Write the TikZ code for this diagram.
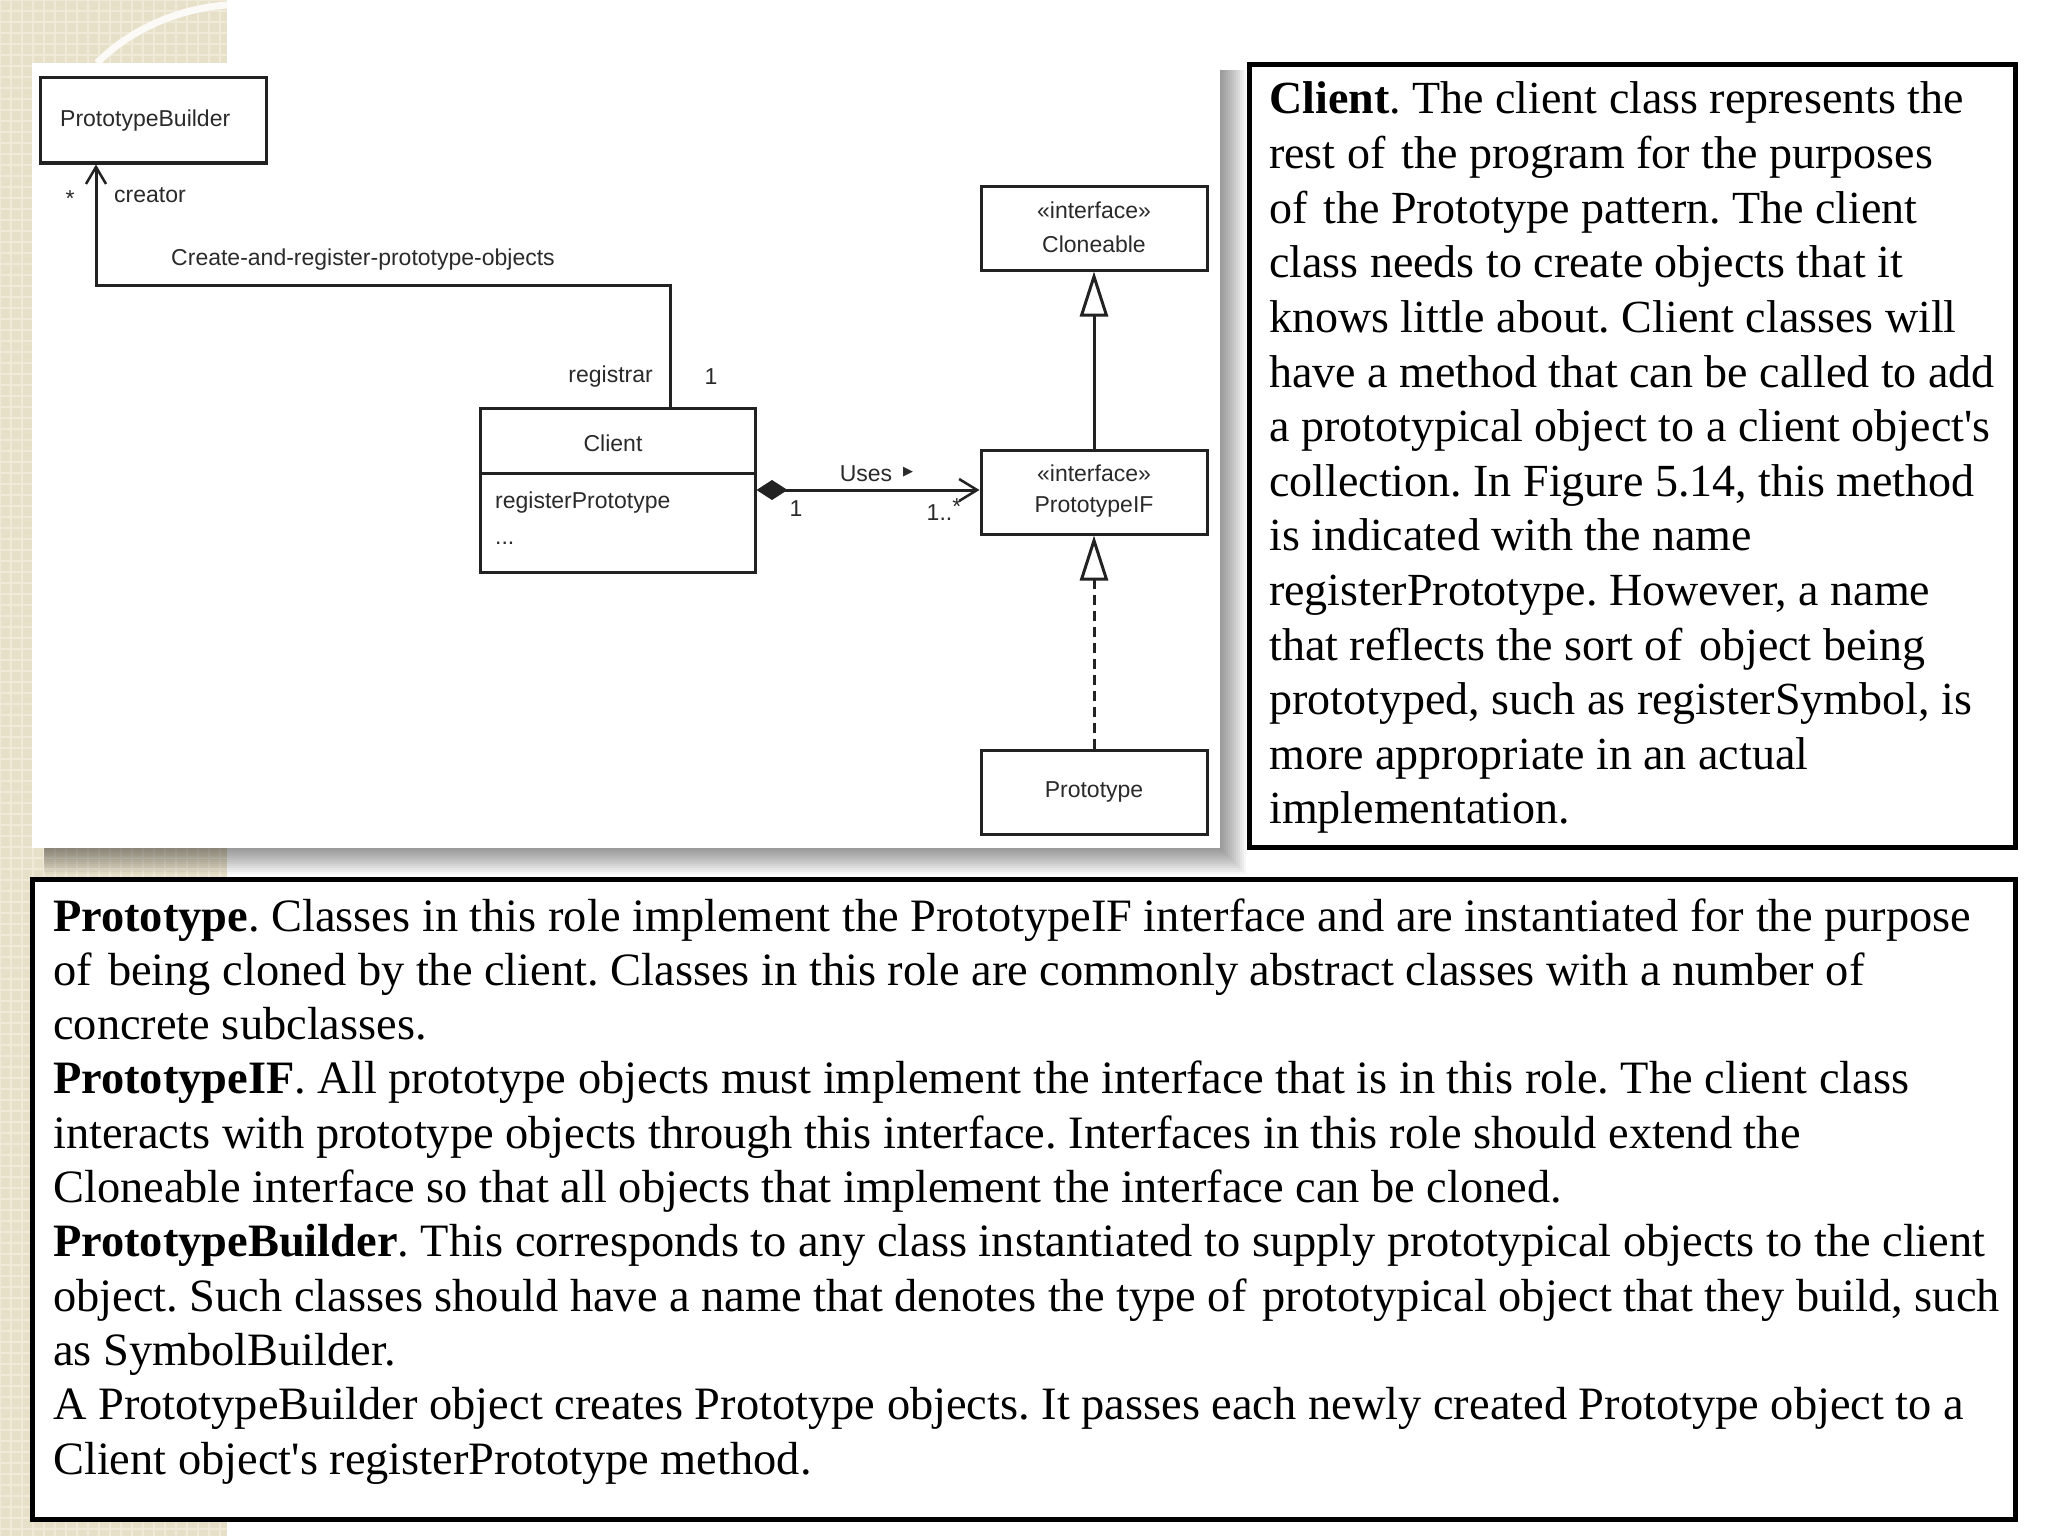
\documentclass[tikz,border=0pt]{standalone}
\usepackage{fontspec}
\setmainfont{Liberation Serif}
\newfontfamily\diag{Liberation Sans}
\newfontfamily\dejavu{DejaVu Sans}
\usetikzlibrary{arrows.meta}
\definecolor{beige}{HTML}{E7E0C9}
\definecolor{beigelite}{HTML}{EFE9D8}
\definecolor{linec}{HTML}{222222}
\definecolor{textc}{HTML}{2A2A2A}
\frenchspacing
\newcommand{\xsp}{\hspace{0.1em}}
\begin{document}
\begin{tikzpicture}[x=1pt,y=-1pt,
  umlbox/.style={draw=linec, line width=3pt, fill=white, inner sep=0pt},
  dtext/.style={font=\diag\fontsize{23}{27}\selectfont, text=textc, inner sep=0pt},
  conn/.style={draw=linec, line width=3pt},
  bodyline/.style={font=\fontsize{46}{55}\selectfont, anchor=base west, inner sep=0pt},
  bodyline2/.style={font=\fontsize{46.4}{55}\selectfont, anchor=base west, inner sep=0pt},
  textframe/.style={draw=black, line width=5pt, fill=white},
  openv/.style={-{Straight Barb[length=17pt,width=20pt,line width=2.5pt]}},
  tri/.style={-{Triangle[open,length=45pt,width=28pt,fill=white,line width=3pt]}}
]
\useasboundingbox (0,0) rectangle (2048,1536);
% background
\fill[white] (0,0) rectangle (2048,1536);
\fill[beige] (0,0) rectangle (227,1536);
\draw[beigelite, line width=2pt, step=11pt] (0,0) grid (227,1536);
\draw[white!85!beige, line width=7pt] (97,63) .. controls (135,25) and (185,8) .. (227,5);
% panel shadow
\foreach \k in {2,4,...,26} {
  \fill[black, opacity=0.035] (44,70) rectangle (1220+\k,848+\k);
}
\fill[white] (32,63) rectangle (1220,848);
% text frames
\draw[textframe] (1249.5,64.5) rectangle (2015.5,847.5);
\draw[textframe] (32.5,879.5) rectangle (2015.5,1519.5);

% UML boxes
\node[umlbox, minimum width=226pt, minimum height=85pt] (pb) at (153,120.5) {};
\node[dtext, anchor=west] (pbt) at (60,121) {PrototypeBuilder};
\node[umlbox, minimum width=275pt, minimum height=164pt] (client) at (617.5,490) {};
\coordinate (cdiv) at (0,473);
\draw[conn] (client.west |- cdiv) -- (client.east |- cdiv);
\node[dtext] (clientt) at (613,443) {Client};
\node[dtext, anchor=west] (regp) at (495,503) {registerPrototype};
\node[dtext, anchor=west] (dots) at (495,543) {...};

\node[umlbox, minimum width=226pt, minimum height=84pt] (clone) at (1094,228) {};
\node[dtext] (clonest) at (1094,210) {«interface»};
\node[dtext] (clonet) at (1094,244) {Cloneable};
\node[umlbox, minimum width=226pt, minimum height=84pt] (pif) at (1094,492) {};
\node[dtext] (pifst) at (1094,473) {«interface»};
\node[dtext] (pift) at (1094,507) {PrototypeIF};
\node[umlbox, minimum width=226pt, minimum height=84pt] (proto) at (1094,792) {};
\node[dtext] (protot) at (1094,792) {Prototype};

% connectors
\coordinate (bendR) at (670,285);
\coordinate (bendL) at (96,285);
\draw[conn, openv] (client.north -| bendR) -- (bendR) -- (bendL) -- (pb.south -| bendL);
\draw[conn, tri] (pif) -- (clone);
\draw[conn, tri, dash pattern=on 10pt off 6pt] (proto) -- (pif);
\draw[conn, {Diamond[length=31pt,width=20pt]}-{Straight Barb[length=18pt,width=22pt,line width=2.5pt]}] (client.east) -- (client.east -| pif.west);

% labels
\node[dtext] (star) at (70,199) {*};
\node[dtext, anchor=west] (creator) at (114,195) {creator};
\node[dtext] (crp) at (363,260) {Create-and-register-prototype-objects};
\node[dtext, anchor=east] (registrar) at (653,377) {registrar};
\node[dtext] (one1) at (711,377) {1};
\node[dtext] (uses) at (866,474) {Uses};
\node[dtext, font=\dejavu\fontsize{13}{15}\selectfont] (usestri) at (908,472) {▶};
\node[dtext] (one2) at (796,509) {1};
\node[dtext] (onestar) at (944,510) {1..\raisebox{6pt}{*}};

% client text
\begin{scope}[every node/.style={bodyline}]
\node (c1) at (1269,114.0) {\textbf{Client}. The client class represents the};
\node (c2) at (1269,168.6) {rest of\xsp{} the program for the purposes};
\node (c3) at (1269,223.2) {of\xsp{} the Prototype pattern. The client};
\node (c4) at (1269,277.8) {class needs to create objects that it};
\node (c5) at (1269,332.4) {knows little about. Client classes will};
\node (c6) at (1269,387.0) {have a method that can be called to add};
\node (c7) at (1269,441.6) {a prototypical object to a client object\textquotesingle s};
\node (c8) at (1269,496.2) {collection. In Figure 5.14, this method};
\node (c9) at (1269,550.8) {is indicated with the name};
\node (c10) at (1269,605.4) {registerPrototype. However, a name};
\node (c11) at (1269,660.0) {that reflects the sort of\xsp{} object being};
\node (c12) at (1269,714.6) {prototyped, such as registerSymbol, is};
\node (c13) at (1269,769.2) {more appropriate in an actual};
\node (c14) at (1269,823.8) {implementation.};
\end{scope}
\begin{scope}[every node/.style={bodyline2}]
\node (b1) at (53,931.0) {\textbf{Prototype}. Classes in this role implement the PrototypeIF interface and are instantiated for the purpose};
\node (b2) at (53,985.3) {of\xsp{} being cloned by the client. Classes in this role are commonly abstract classes with a number of};
\node (b3) at (53,1039.6) {concrete subclasses.};
\node (b4) at (53,1093.9) {\textbf{PrototypeIF}. All prototype objects must implement the interface that is in this role. The client class};
\node (b5) at (53,1148.2) {interacts with prototype objects through this interface. Interfaces in this role should extend the};
\node (b6) at (53,1202.5) {Cloneable interface so that all objects that implement the interface can be cloned.};
\node (b7) at (53,1256.8) {\textbf{PrototypeBuilder}. This corresponds to any class instantiated to supply prototypical objects to the client};
\node (b8) at (53,1311.1) {object. Such classes should have a name that denotes the type of\xsp{} prototypical object that they build, such};
\node (b9) at (53,1365.4) {as SymbolBuilder.};
\node (b10) at (53,1419.7) {A PrototypeBuilder object creates Prototype objects. It passes each newly created Prototype object to a};
\node (b11) at (53,1474.0) {Client object\textquotesingle s registerPrototype method.};
\end{scope}
\end{tikzpicture}
\end{document}
